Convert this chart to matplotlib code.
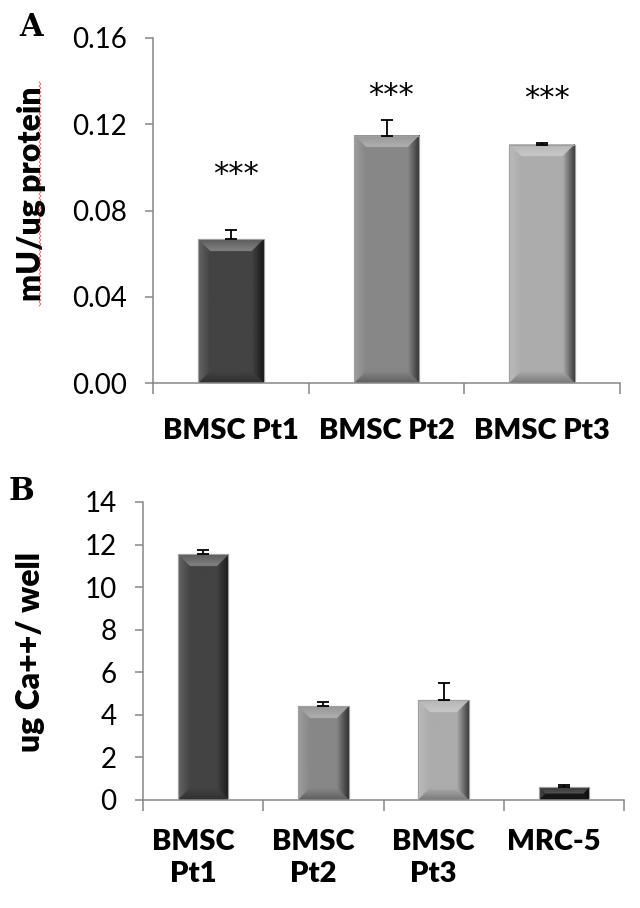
import numpy as np
import matplotlib
matplotlib.use('Agg')
import matplotlib.pyplot as plt
import matplotlib.colors as mcolors
import matplotlib.transforms as mtransforms
from matplotlib.lines import Line2D

# panel A: enzyme activity
labels_a = ['BMSC Pt1', 'BMSC Pt2', 'BMSC Pt3']
vals_a = [0.0666, 0.1147, 0.1105]
errs_a = [0.0042, 0.0074, 0.0010]
stars_a = ['***', '***', '***']
star_y = [0.0965, 0.1335, 0.1318]

# panel B: calcium
labels_b = ['BMSC\nPt1', 'BMSC\nPt2', 'BMSC\nPt3', 'MRC-5']
vals_b = [11.55, 4.41, 4.69, 0.61]
errs_b = [0.20, 0.19, 0.80, 0.09]

colors = ['#434343', '#878787', '#acacac', '#1c1c1c']
gray = '#868686'
W, H = 640, 908
HEAVY = 'heavy'

plt.rcParams['font.family'] = ['Lato', 'DejaVu Sans']


def bevel(ax, bars, pos):
    # overlay a bevelled shading image on each bar
    axw, axh = pos[2] * W, pos[3] * H
    xl, yl = ax.get_xlim(), ax.get_ylim()
    for p in bars.patches:
        x0, w, h = p.get_x(), p.get_width(), p.get_height()
        base = np.array(mcolors.to_rgb(p.get_facecolor()))
        bw = w / (xl[1] - xl[0]) * axw
        bh = h / (yl[1] - yl[0]) * axh
        nx, ny = max(int(bw * 3), 4), max(int(bh * 3), 4)
        dl = np.broadcast_to(((np.arange(nx) + 0.5) / nx * bw)[None, :], (ny, nx))
        dt = np.broadcast_to(((np.arange(ny) + 0.5) / ny * bh)[:, None], (ny, nx))
        dr, db = bw - dl, bh - dt
        b = 12.0
        m = np.minimum(np.minimum(dl, dr), np.minimum(dt, db))
        img = np.ones((ny, nx, 3)) * base
        inb = m < b
        top = inb & (dt == m)
        bot = inb & (db == m) & ~top
        lef = inb & (dl == m) & ~top & ~bot
        rig = inb & (dr == m) & ~top & ~bot & ~lef
        k = np.clip(dt / b, 0, 1)
        lt = 0.12 + 0.22 * k
        img[top] = base + (1 - base) * lt[top][:, None]
        k = np.clip(dl / b, 0, 1)
        ll = 0.18 * (1 - k)
        img[lef] = base + (1 - base) * ll[lef][:, None]
        k = np.clip(dr / b, 0, 1)
        fr = 0.35 + 0.65 * k
        img[rig] = base * fr[rig][:, None]
        k = np.clip(db / b, 0, 1)
        fb = 0.7 + 0.3 * k
        img[bot] = base * fb[bot][:, None]
        ax.imshow(np.clip(img, 0, 1), extent=(x0, x0 + w, 0, h), aspect='auto',
                  interpolation='bilinear', zorder=2)
    ax.set_xlim(xl)
    ax.set_ylim(yl)


def style(ax, n):
    for s in ['top', 'right']:
        ax.spines[s].set_visible(False)
    for s in ['left', 'bottom']:
        ax.spines[s].set_color(gray)
        ax.spines[s].set_linewidth(1.1)
    ax.set_xticks(np.arange(n + 1) - 0.5)
    ax.set_xticklabels([])
    ax.tick_params(axis='x', which='major', length=8, width=1.1, color=gray)
    ax.tick_params(axis='y', which='major', length=6, width=1.1, color=gray,
                   labelsize=20, pad=13)


def cat_labels(ax, x, labels, dx, dy, ls):
    tr = mtransforms.blended_transform_factory(ax.transData, ax.transAxes)
    tr = tr + mtransforms.ScaledTranslation(dx / 100, -dy / 100, fig.dpi_scale_trans)
    for xi, lab in zip(x, labels):
        ax.text(xi, 0, lab, transform=tr, ha='center', va='top', fontsize=21,
                fontweight=HEAVY, linespacing=ls, multialignment='center')


fig = plt.figure(figsize=(6.4, 9.08), dpi=100)

# ---- panel A
posA = [153 / W, 1 - 383 / H, (620 - 153) / W, (383 - 38) / H]
axA = fig.add_axes(posA)
xa = np.arange(len(labels_a))
axA.set_xlim(-0.5, len(labels_a) - 0.5)
axA.set_ylim(0, 0.16)
barsA = axA.bar(xa, vals_a, width=0.42, color=colors[:3], edgecolor='#9a9a9a',
                linewidth=0.8, zorder=1)
bevel(axA, barsA, posA)
axA.bar(xa, vals_a, width=0.42, color='none', edgecolor='#a0a0a0', linewidth=0.8, zorder=3)
axA.errorbar(xa, vals_a, yerr=[np.zeros(len(xa)), errs_a], fmt='none', ecolor='black',
             elinewidth=1.3, capsize=4.5, capthick=1.3, zorder=4)
for xi, s, yy in zip(xa, stars_a, star_y):
    axA.text(xi + 0.03, yy, s, ha='center', va='center', fontsize=22,
             family='DejaVu Sans')
style(axA, len(labels_a))
axA.set_yticks(np.arange(0, 0.161, 0.04))
axA.set_yticklabels(['%.2f' % v for v in np.arange(0, 0.161, 0.04)])
cat_labels(axA, xa, labels_a, 0, 35, 1.2)
fig.text(32 / W, 1 - 194 / H, 'mU/ug protein', rotation=90, ha='center', va='center',
         fontsize=23, fontweight=HEAVY)
fig.text(31 / W, 1 - 27 / H, 'A', ha='center', va='center', fontsize=22,
         fontweight='bold', family='DejaVu Serif')
# spell-check squiggle
yy = np.arange(82, 308, 2.0)
xx = 40 + np.where(np.arange(len(yy)) % 2 == 0, -0.8, 0.8)
fig.add_artist(Line2D(xx / W, 1 - yy / H, color='#ff5050', lw=0.6))

# ---- panel B
posB = [143 / W, 1 - 800 / H, (624 - 143) / W, (800 - 502) / H]
axB = fig.add_axes(posB)
xb = np.arange(len(labels_b))
axB.set_xlim(-0.5, len(labels_b) - 0.5)
axB.set_ylim(0, 14)
barsB = axB.bar(xb, vals_b, width=0.42, color=colors, edgecolor='#9a9a9a',
                linewidth=0.8, zorder=1)
bevel(axB, barsB, posB)
axB.bar(xb, vals_b, width=0.42, color='none', edgecolor='#a0a0a0', linewidth=0.8, zorder=3)
axB.errorbar(xb, vals_b, yerr=[np.zeros(len(xb)), errs_b], fmt='none', ecolor='black',
             elinewidth=1.3, capsize=4.5, capthick=1.3, zorder=4)
style(axB, len(labels_b))
axB.set_yticks(np.arange(0, 15, 2))
cat_labels(axB, xb, labels_b, -10, 29, 1.3)
fig.text(31 / W, 1 - 652 / H, 'ug Ca++/ well', rotation=90, ha='center', va='center',
         fontsize=23, fontweight=HEAVY)
fig.text(21 / W, 1 - 492 / H, 'B', ha='center', va='center', fontsize=22,
         fontweight='bold', family='DejaVu Serif')

fig.savefig('out.png', dpi=100)
